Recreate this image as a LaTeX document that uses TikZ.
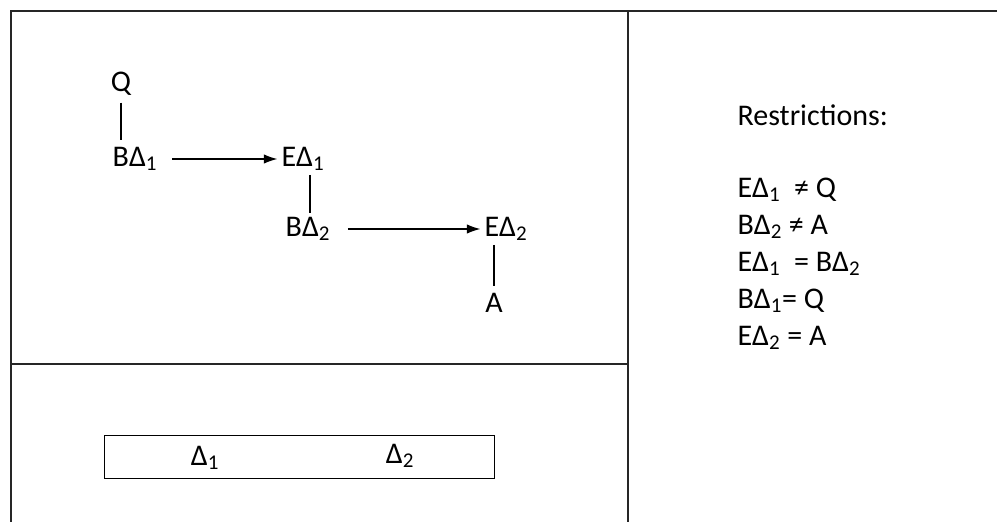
\documentclass[tikz,border=0pt]{standalone}
\usepackage{fontspec}
\setmainfont{Carlito}
\usetikzlibrary{arrows.meta}
\newcommand{\dsub}[1]{Δ\textsubscript{#1}}
\tikzset{
  lbl/.style={inner sep=1pt,font=\fontsize{22.5}{27}\selectfont},
  frame/.style={line width=1.4pt,black!85},
}
\begin{document}
\begin{tikzpicture}[x=0.75pt,y=-0.75pt]
\useasboundingbox (0,0) rectangle (997,522);
% frame
\draw[frame] (997,11) -- (11,11) -- (11,522);
\draw[frame] (628,11) -- (628,522);
\draw[frame] (11,364) -- (628,364);
% chain
\node[lbl] (q) at (121,84) {Q};
\node[lbl] (bd1) at (135,159) {B\dsub1};
\node[lbl] (ed1) at (303,159) {E\dsub1};
\node[lbl] (bd2) at (308,229) {B\dsub2};
\node[lbl] (ed2) at (506,229) {E\dsub2};
\node[lbl] (a) at (494,303) {A};
\draw[thick] (q.south) ++(0,-4pt) -- ([yshift=4pt]q.south |- bd1.north);
\draw[thick,-{Latex[length=10pt,width=7pt]}] ([xshift=10pt]bd1.east) -- ([xshift=-2pt]ed1.west);
\draw[thick] ([yshift=-2pt]ed1.south -| 310,0) -- ([yshift=2pt]bd2.north -| 310,0);
\draw[thick,-{Latex[length=10pt,width=7pt]}] ([xshift=12pt]bd2.east) -- ([xshift=-2pt]ed2.west);
\draw[thick] ([yshift=-2pt]ed2.south -| a) -- ([yshift=4pt]a.north);
% restrictions
\node[lbl,anchor=west] (restr) at (736,115) {Restrictions:};
\foreach \txt [count=\i] in {{E\dsub1\ \ ≠ Q},{B\dsub2\ ≠ A},{E\dsub1\ \ = B\dsub2},{B\dsub1= Q},{E\dsub2 = A}}
  \node[lbl,anchor=west] (r\i) at (736,153+37*\i) {\txt};
% deltas
\node[lbl,minimum width=201*0.75pt,minimum height=44*0.75pt] (d1) at (205,458) {Δ\textsubscript{1}};
\node[lbl,minimum width=189*0.75pt,minimum height=44*0.75pt] (d2) at (400,456) {Δ\textsubscript{2}};
\draw[thick] (d1.north west) rectangle (d2.south east);
\end{tikzpicture}
\end{document}
